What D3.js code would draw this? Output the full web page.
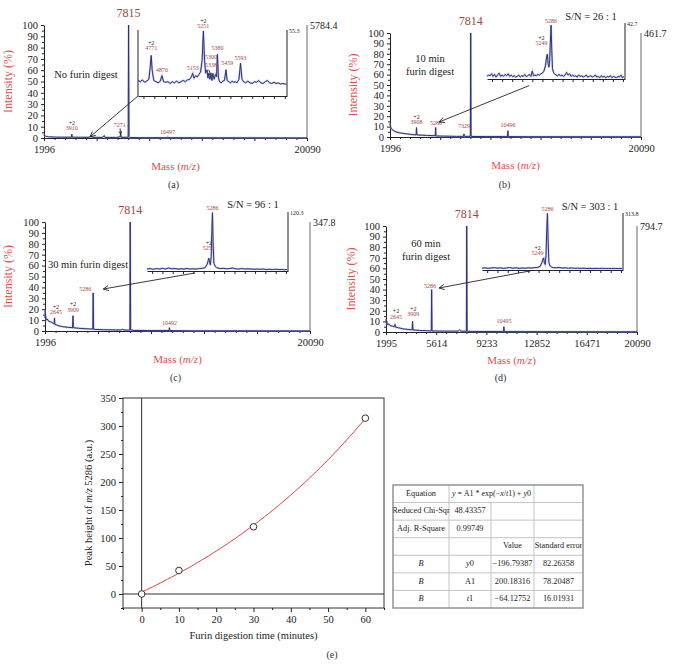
<!DOCTYPE html>
<html><head><meta charset="utf-8">
<script src="https://cdn.jsdelivr.net/npm/d3@7/dist/d3.min.js"></script>
<style>
body{margin:0;background:#fff}
svg{display:block}
text{font-family:"Liberation Serif","DejaVu Serif",serif}
</style>
</head><body>
<svg id="fig" width="688" height="667"></svg>
<script>
// ---------------- DATA ----------------
// main spectra: [m/z, intensity %]
const specA = [[1996,3],[2020,2],[2100,1.6],[2300,1.1],[2700,0.8],[3200,0.7],[3880,0.7],[3910,3.5],[3940,0.7],[4500,0.6],[5100,0.6],[5250,1.8],[5300,0.6],[6000,0.5],[6150,2],[6200,0.5],[7000,0.5],[7240,1],[7271,4],[7300,0.6],[7790,0.6],[7815,100],[7845,1.2],[7900,0.4],[9000,0.3],[10470,0.3],[10497,0.9],[10520,0.3],[14000,0.2],[20090,0.1]];
const specB = [[1996,13],[2030,10],[2100,8],[2200,6.5],[2350,5.5],[2500,4.5],[2700,4],[2900,3.5],[3200,3],[3500,2.5],[3880,2],[3908,9],[3935,2],[4300,1.8],[4700,1.5],[5260,1.2],[5286,9],[5310,1],[6000,0.8],[6800,0.6],[7300,0.6],[7329,3],[7355,0.6],[7790,0.6],[7814,100],[7840,0.8],[7900,0.5],[9000,0.4],[10470,0.4],[10496,6],[10520,0.4],[12000,0.3],[20090,0.2]];
const specC = [[1996,20],[2010,12],[2040,14],[2080,10],[2150,11],[2250,9],[2350,8.5],[2450,8],[2550,7],[2620,6.5],[2645,12],[2670,6],[2800,5.5],[3000,4.5],[3200,4],[3500,3.5],[3880,3],[3909,14],[3935,3],[4300,2.5],[4800,2],[5260,1.8],[5286,35],[5315,1.5],[6000,1.2],[6800,1],[7200,1],[7300,1.6],[7400,0.9],[7790,0.8],[7814,100],[7845,1],[8000,0.6],[9000,0.4],[10470,0.4],[10492,3],[10515,0.4],[12000,0.2],[20090,0.1]];
const specD = [[1995,12],[2010,9],[2050,10],[2100,7],[2200,7.5],[2300,6],[2450,5.5],[2600,5],[2645,7],[2700,4.5],[2900,4],[3200,3],[3500,2.5],[3880,2],[3909,10],[3940,2],[4400,1.5],[5000,1.2],[5260,1],[5286,40],[5315,1],[6200,0.8],[7200,0.8],[7300,2],[7400,0.7],[7790,0.6],[7814,100],[7845,0.8],[8200,0.5],[10470,0.4],[10495,5],[10520,0.4],[14000,0.3],[20090,0.2]];

// zoomed insets: [m/z, absolute intensity]
const insetA = [[4650,13],[4670,12],[4690,13.5],[4710,11.5],[4730,12.5],[4750,14],[4762,24],[4771,34],[4780,22],[4795,13],[4815,12],[4835,11],[4855,12.5],[4870,17],[4885,12],[4905,11.5],[4925,12],[4945,10.5],[4965,12],[4985,11],[5005,12.5],[5025,11],[5045,12],[5065,13],[5085,12],[5105,13.5],[5125,14],[5140,16],[5153,19],[5165,15],[5180,17],[5195,16],[5210,18],[5225,20],[5240,30],[5251,54.5],[5262,30],[5272,19],[5285,22],[5293,15],[5300,19],[5310,14],[5320,17],[5330,13],[5338,19],[5350,14],[5362,18],[5372,16],[5380,35],[5390,15],[5400,12],[5415,11],[5430,12.5],[5445,13],[5459,22],[5470,13],[5485,12],[5500,11],[5515,12.5],[5530,11.5],[5545,12],[5560,11],[5578,14],[5593,27.5],[5606,14],[5620,12],[5640,11],[5660,12.5],[5680,11],[5700,10.5],[5720,12],[5740,11.5],[5760,13],[5780,11],[5800,10.5],[5820,12],[5840,13],[5860,11],[5880,10.5],[5900,11.5],[5920,10.5],[5940,11],[5960,10],[5980,10.5],[6000,10],[6015,10]];
const insetB = [[4650,2],[4665,3],[4680,2.5],[4695,4],[4710,2],[4725,3.5],[4740,1.5],[4755,3],[4770,4.5],[4785,2],[4800,3],[4815,2],[4830,3.5],[4845,2.5],[4860,4],[4875,2],[4890,3],[4905,1.8],[4920,2.5],[4935,1.5],[4950,2],[4965,3],[4980,1.5],[4995,2.5],[5010,2],[5025,3.5],[5040,1.8],[5055,2.5],[5070,3.5],[5085,2],[5100,6],[5112,2.5],[5125,3],[5140,2.5],[5155,3.5],[5170,3],[5185,4],[5200,4.5],[5215,6],[5230,10],[5242,17],[5249,19],[5256,12],[5264,9],[5272,14],[5279,28],[5286,41],[5293,22],[5300,8],[5310,5],[5320,4],[5335,3],[5350,2.5],[5365,3.5],[5380,2.5],[5395,3],[5410,2],[5425,3],[5440,5],[5455,3],[5470,4],[5485,2],[5500,3],[5515,2],[5530,2.5],[5545,1.5],[5560,3],[5575,2],[5590,2.5],[5605,1.5],[5620,2],[5635,3],[5650,1.5],[5665,2],[5680,2.5],[5695,1.5],[5710,2],[5725,3],[5740,1.5],[5755,2],[5770,1],[5785,2.5],[5800,1.5],[5815,2],[5830,1],[5845,2],[5860,1.5],[5875,2.5],[5890,1],[5905,2],[5920,1.5],[5935,1],[5950,2],[5965,1.5],[5980,3],[5995,1],[6010,2]];
const insetC = [[4650,4],[4680,5],[4710,3.5],[4740,5],[4770,4],[4800,5.5],[4830,4],[4860,6],[4890,4.5],[4920,5],[4950,4],[4980,4.5],[5010,4],[5040,5],[5070,4],[5100,4.5],[5130,4],[5160,5],[5190,5.5],[5215,7],[5235,14],[5245,22],[5251,26],[5258,18],[5266,12],[5274,30],[5280,80],[5286,119],[5292,60],[5300,16],[5312,10],[5325,7],[5340,6],[5360,5],[5390,5.5],[5420,4.5],[5450,5],[5480,6],[5510,4.5],[5540,4],[5570,5],[5600,4],[5630,4.5],[5660,4],[5690,3.5],[5720,4],[5750,3.5],[5780,4],[5810,3],[5840,3.5],[5870,3],[5900,3.5],[5930,3],[5960,3],[5990,2.5],[6010,3]];
const insetD = [[4650,10],[4680,12],[4710,9],[4740,11],[4770,13],[4800,10],[4830,12],[4860,9],[4890,11],[4920,14],[4950,10],[4980,12],[5010,9],[5040,11],[5070,10],[5100,12],[5130,11],[5160,13],[5190,14],[5215,20],[5232,40],[5243,62],[5249,66],[5256,40],[5264,30],[5272,80],[5279,220],[5286,312],[5293,150],[5300,40],[5312,22],[5325,16],[5345,13],[5370,12],[5400,14],[5430,11],[5460,12],[5490,10],[5520,11],[5550,9],[5580,10],[5610,9],[5640,10],[5670,8],[5700,9],[5730,8],[5760,9],[5790,8],[5820,9],[5850,8],[5880,8.5],[5910,8],[5940,8.5],[5970,8],[6010,8]];

// peak labels on main spectra: [label, m/z, level %, charge]
const labA = [["3910",3910,8,"+2"],["7271",7200,11,""],["10497",10497,4.5,""]];
const labB = [["3908",3908,13.5,"+2"],["5286",5313,12.5,""],["7329",7329,9.6,""],["10496",10496,10.6,""]];
const labC = [["2645",2740,16.5,"+2"],["3909",3909,19,"+2"],["5286",4740,37.6,""],["10492",10492,6.4,""]];
const labD = [["2645",2716,14,"+2"],["3909",3960,16,"+2"],["5286",5168,42.5,""],["10495",10495,9.4,""]];
// peak labels on insets: [label, m/z, level, charge]
const ilabA = [["4771",4771,39.4,"+2"],["4870",4870,21,""],["5153",5153,22.6,""],["5251",5251,57.8,"+2"],["5300",5322,32.5,""],["5338",5322,25.5,""],["5380",5380,39.4,""],["5459",5470,26.8,""],["5593",5593,31,""]];
const ilabB = [["5286",5286,44,""],["5249",5190,26.7,"+2"]];
const ilabC = [["5286",5286,126.5,""],["5251",5251,45,"+2"]];
const ilabD = [["5286",5286,335,""],["5249",5190,88,"+2"]];

const basePeaks = ["7815","7814","7814","7814"];
const absMax = ["5784.4","461.7","347.8","794.7"];
const insetMax = [55.3, 42.7, 120.3, 313.8];
const snText = ["", "S/N = 26 : 1", "S/N = 96 : 1", "S/N = 303 : 1"];
const xTicksA = ["1996","","","","","20090"];
const xTicksD = ["1995","5614","9233","12852","16471","20090"];
const captions = ["(a)","(b)","(c)","(d)","(e)"];

// panel (e)
const digestTime = [0, 10, 30, 60];
const peakHeight = [0, 42, 120, 314];
const fitY0 = -196.79387, fitA1 = 200.18316, fitT1 = -64.12752;
const tableRows = [
  ["Equation", "EQ", null, ""],
  ["Reduced Chi-Sqr", "48.43357", "", ""],
  ["Adj. R-Square", "0.99749", "", ""],
  ["", "", "Value", "Standard error"],
  ["B", "y0", "\u2212196.79387", "82.26358"],
  ["B", "A1", "200.18316", "78.20487"],
  ["B", "t1", "\u221264.12752", "16.01931"]
];

// ---------------- DRAWING ----------------
const svg = d3.select("#fig");
const NAVY = "#2b3282", LABEL = "#a3473f", AXRED = "#de5050", INK = "#222";

function styleAxis(sel, size) {
  sel.attr("font-family", null).attr("font-size", null);
  sel.selectAll("text").attr("font-size", size).attr("fill", INK)
     .style("font-family", '"Liberation Serif",serif');
  sel.selectAll("line").attr("stroke", INK);
  sel.selectAll("path").attr("stroke", INK);
}
function arrow(g, x1, y1, x2, y2, size) {
  g.append("line").attr("x1", x1).attr("y1", y1).attr("x2", x2).attr("y2", y2)
   .attr("stroke", INK).attr("stroke-width", 0.9);
  const a = Math.atan2(y1 - y2, x1 - x2);
  [0.45, -0.45].forEach(da => {
    g.append("line").attr("x1", x2).attr("y1", y2)
     .attr("x2", x2 + size * Math.cos(a + da)).attr("y2", y2 + size * Math.sin(a + da))
     .attr("stroke", INK).attr("stroke-width", 0.9);
  });
}
function peakLabels(g, labs, x, y, size) {
  labs.forEach(([t, mz, lv, ch]) => {
    g.append("text").attr("x", x(mz)).attr("y", y(lv)).attr("text-anchor", "middle")
     .attr("dominant-baseline", "middle").attr("font-size", size).attr("fill", LABEL).text(t);
    if (ch) g.append("text").attr("x", x(mz)).attr("y", y(lv) - size * 0.95).attr("text-anchor", "middle")
     .attr("dominant-baseline", "middle").attr("font-size", size).attr("fill", INK).text(ch);
  });
}

const panels = [
  {spec: specA, inset: insetA, labs: labA, ilabs: ilabA, ticks: xTicksA, mz0: 1996, mz1: 20090,
   x0: 44, x1: 307, yTop: 25, yBot: 138, ix0: 138, ix1: 287, iyTop: 30, iyBot: 96, leftLine: true,
   ylabX: 9, capY: 186, arrowFrom: [4650, 0], arrowTo: [5161, 1]},
  {spec: specB, inset: insetB, labs: labB, ilabs: ilabB, ticks: xTicksA, mz0: 1996, mz1: 20090,
   x0: 390, x1: 641, yTop: 33, yBot: 137, ix0: 487, ix1: 625, iyTop: 23, iyBot: 79,
   ylabX: 354, capY: 186, arrowFrom: [5070, -5], arrowTo: [5530, 14.4]},
  {spec: specC, inset: insetC, labs: labC, ilabs: ilabC, ticks: xTicksA, mz0: 1996, mz1: 20090,
   x0: 45, x1: 310, yTop: 222, yBot: 331, ix0: 147, ix1: 288, iyTop: 212, iyBot: 271,
   ylabX: 9, capY: 379, arrowFrom: [5117, -4], arrowTo: [5975, 38.5]},
  {spec: specD, inset: insetD, labs: labD, ilabs: ilabD, ticks: xTicksD, mz0: 1995, mz1: 20090,
   x0: 386, x1: 637, yTop: 226, yBot: 332, ix0: 482, ix1: 623, iyTop: 213, iyBot: 270,
   ylabX: 352, capY: 379, arrowFrom: [5126, -4], arrowTo: [5816, 41.5]}
];
const notes = [
  [["No furin digest"], 86, 76],
  [["10 min", "furin digest"], 430, 60],
  [["30 min furin digest"], 88, 266],
  [["60 min", "furin digest"], 426, 245]
];
const snPos = [[0,0],[591,18],[253,206],[590,208]];

panels.forEach((p, i) => {
  const g = svg.append("g");
  const x = d3.scaleLinear().domain([p.mz0, p.mz1]).range([p.x0, p.x1]);
  const y = d3.scaleLinear().domain([0, 100]).range([p.yBot, p.yTop]);
  // y axis
  const ym = g.append("g").attr("transform", `translate(${p.x0},0)`)
    .call(d3.axisLeft(y).tickValues(d3.range(5, 100, 10)).tickSize(2).tickFormat(""));
  ym.select(".domain").remove(); styleAxis(ym, 10);
  const ya = g.append("g").attr("transform", `translate(${p.x0},0)`)
    .call(d3.axisLeft(y).tickValues(d3.range(0, 101, 10)).tickSize(3).tickPadding(3).tickSizeOuter(0));
  styleAxis(ya, 10.5);
  // x axis
  const step = (p.mz1 - p.mz0) / 5;
  const major = d3.range(6).map(k => p.mz0 + k * step);
  const minor = d3.range(1, 25).filter(k => k % 5).map(k => p.mz0 + k * step / 5);
  const xm = g.append("g").attr("transform", `translate(0,${p.yBot})`)
    .call(d3.axisBottom(x).tickValues(minor).tickSize(2).tickFormat(""));
  xm.select(".domain").remove(); styleAxis(xm, 10);
  const xa = g.append("g").attr("transform", `translate(0,${p.yBot})`)
    .call(d3.axisBottom(x).tickValues(major).tickSize(3).tickPadding(5).tickSizeOuter(0)
      .tickFormat((d, k) => p.ticks[k]));
  styleAxis(xa, 10.5);
  // right absolute-scale bar
  g.append("line").attr("x1", p.x1).attr("x2", p.x1).attr("y1", p.yBot).attr("y2", p.yTop)
    .attr("stroke", "#8a8a8a").attr("stroke-width", 1.3);
  g.append("text").attr("x", p.x1 + 3).attr("y", p.yTop + 2).attr("dominant-baseline", "middle")
    .attr("font-size", 10).attr("fill", INK).text(absMax[i]);
  // spectrum
  const line = d3.line().x(d => x(d[0])).y(d => y(d[1]));
  g.append("path").datum(p.spec).attr("d", line).attr("fill", "none")
    .attr("stroke", "#8e94c8").attr("stroke-width", 2).attr("opacity", 0.5);
  g.append("path").datum(p.spec).attr("d", line).attr("fill", "none")
    .attr("stroke", NAVY).attr("stroke-width", 1);
  // base peak label
  g.append("text").attr("x", x(+basePeaks[i])).attr("y", p.yTop - 8).attr("text-anchor", "middle")
    .attr("font-size", 12).attr("fill", LABEL).text(basePeaks[i]);
  peakLabels(g, p.labs, x, y, 6);
  // inset
  const ix = d3.scaleLinear().domain([4650, 6020]).range([p.ix0, p.ix1]);
  const iy = d3.scaleLinear().domain([0, insetMax[i]]).range([p.iyBot, p.iyTop]);
  const ia = g.append("g").attr("transform", `translate(0,${p.iyBot})`)
    .call(d3.axisBottom(ix).ticks(10).tickSize(3).tickFormat("").tickSizeOuter(0));
  styleAxis(ia, 6);
  g.append("line").attr("x1", p.ix1).attr("x2", p.ix1).attr("y1", p.iyBot).attr("y2", p.iyTop)
    .attr("stroke", INK).attr("stroke-width", 1);
  if (p.leftLine) g.append("line").attr("x1", p.ix0).attr("x2", p.ix0).attr("y1", p.iyBot).attr("y2", p.iyTop)
    .attr("stroke", INK).attr("stroke-width", 1);
  g.append("text").attr("x", p.ix1 + 2).attr("y", p.iyTop + 2).attr("dominant-baseline", "middle")
    .attr("font-size", 6).attr("fill", INK).text(insetMax[i]);
  const iline = d3.line().x(d => ix(d[0])).y(d => iy(d[1]));
  g.append("path").datum(p.inset).attr("d", iline).attr("fill", "none")
    .attr("stroke", "#8e94c8").attr("stroke-width", 2).attr("opacity", 0.5);
  g.append("path").datum(p.inset).attr("d", iline).attr("fill", "none")
    .attr("stroke", NAVY).attr("stroke-width", 1);
  peakLabels(g, p.ilabs, ix, iy, 6);
  // arrow from inset to main spectrum
  arrow(g, ix(p.arrowFrom[0]), iy(p.arrowFrom[1]), x(p.arrowTo[0]), y(p.arrowTo[1]), 6);
  // note text
  const [lines, nx, ny] = notes[i];
  lines.forEach((t, k) => g.append("text").attr("x", nx).attr("y", ny + k * 12.5)
    .attr("text-anchor", "middle").attr("dominant-baseline", "middle")
    .attr("font-size", 10.5).attr("fill", INK).text(t));
  if (snText[i]) g.append("text").attr("x", snPos[i][0]).attr("y", snPos[i][1])
    .attr("text-anchor", "middle").attr("dominant-baseline", "middle")
    .attr("font-size", 10.5).attr("fill", INK).text(snText[i]);
  // axis titles
  const mt = g.append("text").attr("x", (p.x0 + p.x1) / 2).attr("y", p.yBot + 29)
    .attr("text-anchor", "middle").attr("dominant-baseline", "middle")
    .attr("font-size", 11).attr("fill", AXRED);
  mt.append("tspan").text("Mass (");
  mt.append("tspan").attr("font-style", "italic").text("m/z");
  mt.append("tspan").text(")");
  g.append("text").attr("transform", `translate(${p.ylabX},${(p.yTop + p.yBot) / 2}) rotate(-90)`)
    .attr("text-anchor", "middle").attr("dominant-baseline", "middle")
    .attr("font-size", 12).attr("fill", AXRED).text("Intensity (%)");
  g.append("text").attr("x", (p.x0 + p.x1) / 2 - 2 + (i % 2 ? -9 : 0)).attr("y", p.capY)
    .attr("text-anchor", "middle").attr("dominant-baseline", "middle")
    .attr("font-size", 10).attr("fill", "#333").text(captions[i]);
});
// small pointer arrows in panel (a)
{
  const p = panels[0];
  const x = d3.scaleLinear().domain([p.mz0, p.mz1]).range([p.x0, p.x1]);
  const y = d3.scaleLinear().domain([0, 100]).range([p.yBot, p.yTop]);
  arrow(svg, x(7230), y(8.5), x(7265), y(3.5), 3);
  const ix = d3.scaleLinear().domain([4650, 6020]).range([p.ix0, p.ix1]);
  const iy = d3.scaleLinear().domain([0, 55.3]).range([p.iyBot, p.iyTop]);
  arrow(svg, ix(5300), iy(22), ix(5322), iy(17), 3);
}

// ---------- panel (e) ----------
{
  const g = svg.append("g");
  const X0 = 123, X1 = 384, Y0 = 608, Y1 = 398;
  const x = d3.scaleLinear().domain([-5, 65]).range([X0, X1]);
  const y = d3.scaleLinear().domain([-25, 350]).range([Y0, Y1]);
  g.append("rect").attr("x", X0).attr("y", Y1).attr("width", X1 - X0).attr("height", Y0 - Y1)
    .attr("fill", "none").attr("stroke", "#333").attr("stroke-width", 1);
  g.append("line").attr("x1", x(0)).attr("x2", x(0)).attr("y1", Y0).attr("y2", Y1).attr("stroke", "#333");
  g.append("line").attr("x1", X0).attr("x2", X1).attr("y1", y(0)).attr("y2", y(0)).attr("stroke", "#333");
  const xm = g.append("g").attr("transform", `translate(0,${Y0})`)
    .call(d3.axisBottom(x).tickValues(d3.range(-5, 66, 10)).tickSize(2).tickFormat(""));
  xm.select(".domain").remove(); styleAxis(xm, 10);
  const xa = g.append("g").attr("transform", `translate(0,${Y0})`)
    .call(d3.axisBottom(x).tickValues(d3.range(0, 61, 10)).tickSize(4).tickPadding(4).tickSizeOuter(0));
  xa.select(".domain").remove(); styleAxis(xa, 10.5);
  const ym = g.append("g").attr("transform", `translate(${X0},0)`)
    .call(d3.axisLeft(y).tickValues(d3.range(-25, 350, 50)).tickSize(2).tickFormat(""));
  ym.select(".domain").remove(); styleAxis(ym, 10);
  const ya = g.append("g").attr("transform", `translate(${X0},0)`)
    .call(d3.axisLeft(y).tickValues(d3.range(0, 351, 50)).tickSize(4).tickPadding(3).tickSizeOuter(0));
  ya.select(".domain").remove(); styleAxis(ya, 10.5);
  // fitted curve y = A1*exp(-x/t1)+y0 using the fit parameters in the table
  const fit = d3.range(0, 60.5, 1).map(t => [t, fitA1 * Math.exp(-t / fitT1) + fitY0]);
  g.append("path").datum(fit).attr("d", d3.line().x(d => x(d[0])).y(d => y(d[1])))
    .attr("fill", "none").attr("stroke", "#d8463f").attr("stroke-width", 1);
  g.selectAll("circle.pt").data(digestTime).join("circle").attr("class", "pt")
    .attr("cx", d => x(d)).attr("cy", (d, k) => y(peakHeight[k])).attr("r", 3.3)
    .attr("fill", "#fff").attr("stroke", "#333").attr("stroke-width", 1);
  g.append("text").attr("x", (X0 + X1) / 2).attr("y", 637).attr("text-anchor", "middle")
    .attr("dominant-baseline", "middle").attr("font-size", 10.5).attr("fill", INK)
    .text("Furin digestion time (minutes)");
  const yl = g.append("text").attr("transform", `translate(90,${(Y0 + Y1) / 2}) rotate(-90)`)
    .attr("text-anchor", "middle").attr("dominant-baseline", "middle")
    .attr("font-size", 10.5).attr("fill", INK);
  yl.append("tspan").text("Peak height of ");
  yl.append("tspan").attr("font-style", "italic").text("m/z");
  yl.append("tspan").text(" 5286 (a.u.)");
  g.append("text").attr("x", 332).attr("y", 656).attr("text-anchor", "middle")
    .attr("dominant-baseline", "middle").attr("font-size", 10).attr("fill", "#333").text(captions[4]);

  // fit table
  const cx = [393, 449, 491, 534, 583];
  const ty0 = 485, ty1 = 608, rh = (ty1 - ty0) / tableRows.length;
  const t = svg.append("g");
  tableRows.forEach((row, r) => {
    const yy = ty0 + r * rh;
    if (r > 0) t.append("line").attr("x1", cx[0]).attr("x2", cx[4]).attr("y1", yy).attr("y2", yy)
      .attr("stroke", "#c4c4c4").attr("stroke-width", 1);
    [1, 2, 3].forEach(c => {
      if (r === 0 && c === 2) return;
      t.append("line").attr("x1", cx[c]).attr("x2", cx[c]).attr("y1", yy).attr("y2", yy + rh)
        .attr("stroke", "#c4c4c4").attr("stroke-width", 1);
    });
    row.forEach((v, c) => {
      if (v === null || v === "") return;
      const cy = yy + rh / 2;
      if (v === "EQ") {
        const e = t.append("text").attr("x", (cx[1] + cx[3]) / 2).attr("y", cy).attr("text-anchor", "middle")
          .attr("dominant-baseline", "middle").attr("font-size", 8).attr("fill", INK);
        e.append("tspan").attr("font-style", "italic").text("y");
        e.append("tspan").text(" = A1 * exp(\u2212");
        e.append("tspan").attr("font-style", "italic").text("x");
        e.append("tspan").text("/");
        e.append("tspan").attr("font-style", "italic").text("t");
        e.append("tspan").text("1) + ");
        e.append("tspan").attr("font-style", "italic").text("y");
        e.append("tspan").text("0");
        return;
      }
      const tx = t.append("text").attr("x", (cx[c] + cx[c + 1]) / 2).attr("y", cy)
        .attr("text-anchor", "middle").attr("dominant-baseline", "middle")
        .attr("font-size", 8.3).attr("fill", INK);
      if (v === "B") tx.attr("font-style", "italic").text(v);
      else if (v === "y0" || v === "t1") { tx.append("tspan").attr("font-style", "italic").text(v[0]); tx.append("tspan").text(v.slice(1)); }
      else tx.text(v);
    });
  });
  t.append("rect").attr("x", cx[0]).attr("y", ty0).attr("width", cx[4] - cx[0]).attr("height", ty1 - ty0)
    .attr("fill", "none").attr("stroke", "#8c8c8c").attr("stroke-width", 1.4);
}
</script>
</body></html>
